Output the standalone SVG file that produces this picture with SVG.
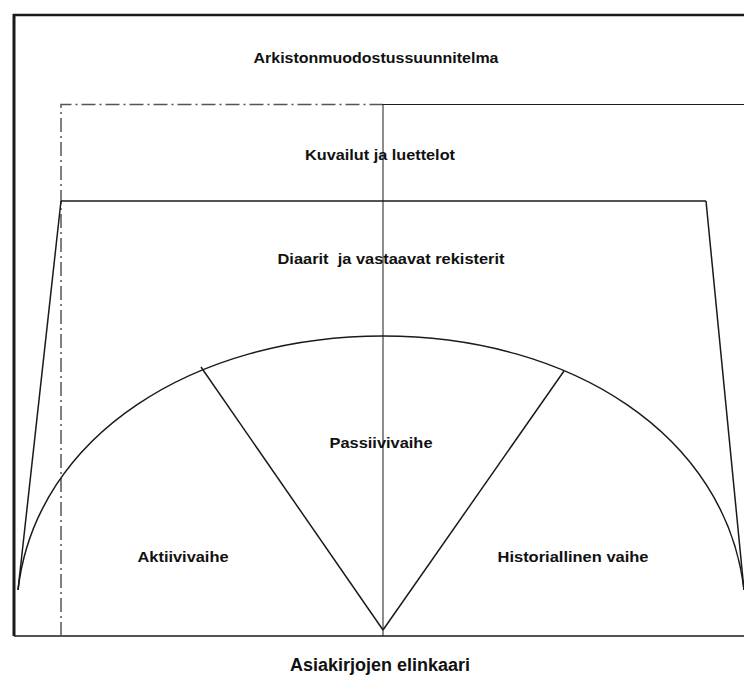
<svg xmlns="http://www.w3.org/2000/svg" width="744" height="676" viewBox="0 0 744 676">
<style>
.ln{fill:none;stroke:#1a1a1a;stroke-width:1.5}
.thin{fill:none;stroke:#1a1a1a;stroke-width:1}
.dd{fill:none;stroke:#555;stroke-width:1.5;stroke-dasharray:14 4 2 4}
.t{font-family:"Liberation Sans",Arial,sans-serif;font-weight:bold;font-size:15px;fill:#111;text-anchor:middle}
.big{font-size:18px}
</style>
<rect width="744" height="676" fill="#fff"/>
<g id="connectors">
<path class="ln" d="M13,15 H744" style="stroke-width:2.5"/>
<path class="ln" d="M14,14 V636" style="stroke-width:3"/>
<path class="ln" d="M14,636 H744"/>
<path class="dd" d="M61,636 V104.5 H383"/>
<path class="thin" d="M383,104.5 H744"/>
<path class="thin" d="M383,104 V636"/>
<path class="ln" d="M61,201 H706"/>
<path class="ln" d="M61,201 L18,590"/>
<path class="ln" d="M706,201 L744,590"/>
<path class="ln" d="M18,590 C36,435 195,336 383,336 C571,336 726,435 744,590"/>
<path class="ln" d="M383,630 L201,367"/>
<path class="ln" d="M383,630 L564,371"/>
</g>
<g id="n-arkisto"><text class="t" x="376" y="63" textLength="245" lengthAdjust="spacingAndGlyphs">Arkistonmuodostussuunnitelma</text></g>
<g id="n-kuvailut"><text class="t" x="380" y="160" textLength="150" lengthAdjust="spacingAndGlyphs">Kuvailut ja luettelot</text></g>
<g id="n-diaarit"><text class="t" x="391" y="264" textLength="227" lengthAdjust="spacingAndGlyphs">Diaarit&#160; ja vastaavat rekisterit</text></g>
<g id="n-passiivi"><text class="t" x="381" y="448" textLength="103" lengthAdjust="spacingAndGlyphs">Passiivivaihe</text></g>
<g id="n-aktiivi"><text class="t" x="183" y="562" textLength="91" lengthAdjust="spacingAndGlyphs">Aktiivivaihe</text></g>
<g id="n-historia"><text class="t" x="573" y="562" textLength="151" lengthAdjust="spacingAndGlyphs">Historiallinen vaihe</text></g>
<g id="n-elinkaari"><text class="t big" x="380" y="671" textLength="180" lengthAdjust="spacingAndGlyphs">Asiakirjojen elinkaari</text></g>
</svg>
